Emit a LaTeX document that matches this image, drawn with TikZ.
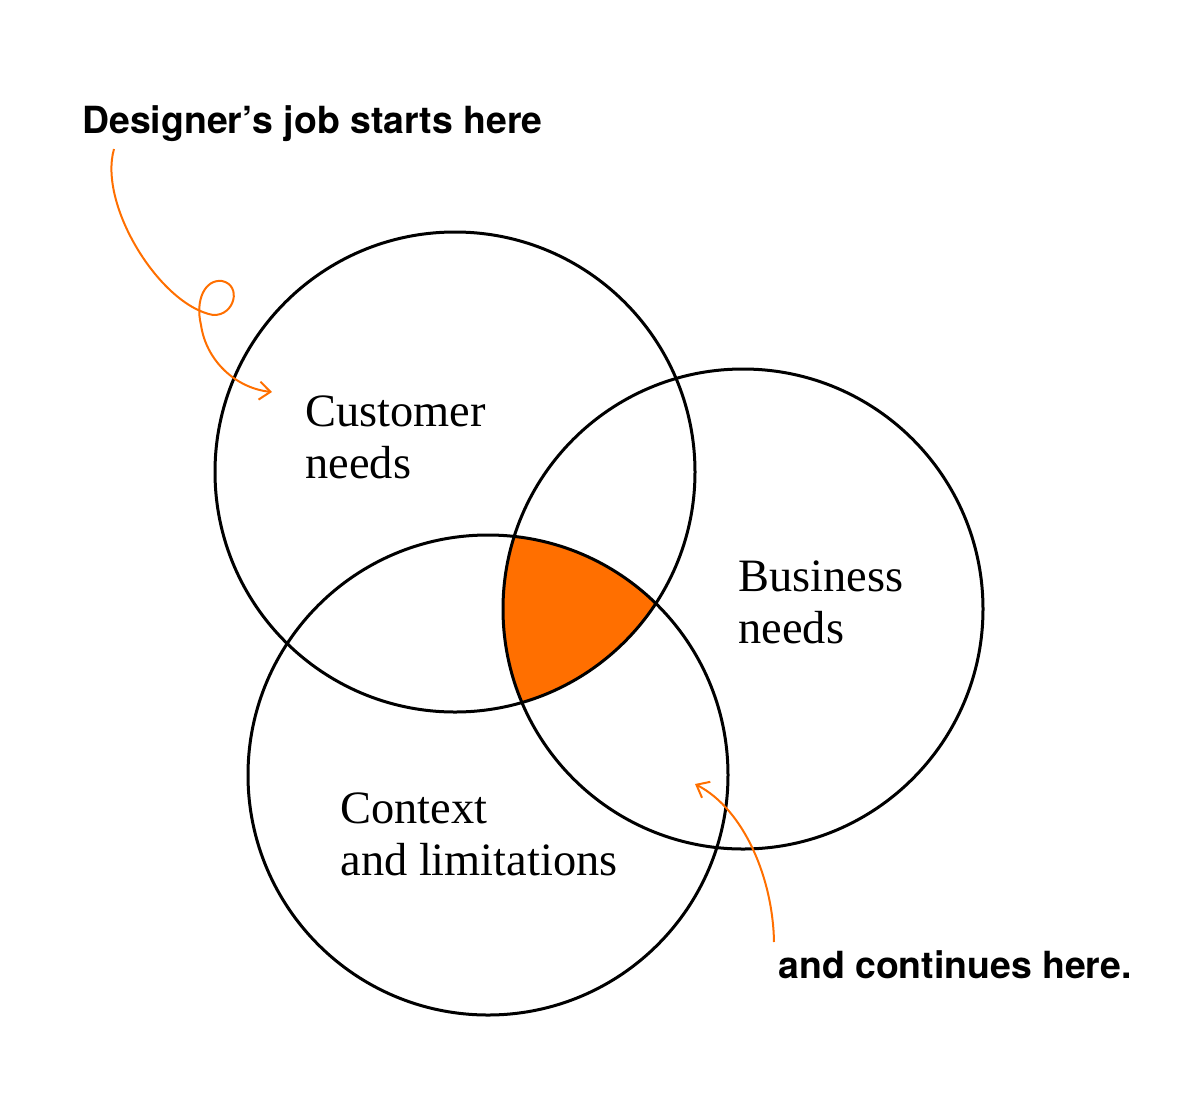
\documentclass[tikz,border=0pt]{standalone}
\usepackage{fontspec}
\setmainfont{Liberation Serif}
\newfontfamily\labelfont{TeX Gyre Heros}
\usetikzlibrary{arrows.meta}
\definecolor{accent}{HTML}{FF6F00}
\tikzset{
  x=0.5pt, y=-0.5pt,
  setcircle/.style={circle, draw=black, line width=1.5pt, minimum size=240pt, inner sep=0pt, outer sep=0pt},
  serif/.style={anchor=base west, inner sep=0pt, align=left, font=\fontsize{23.2}{26}\selectfont},
  callout/.style={anchor=base west, inner sep=0pt, font=\labelfont\bfseries\fontsize{18.7}{22}\selectfont},
  pointer/.style={draw=accent, line width=1pt, -{Straight Barb[length=5.5pt,width=9pt]}}
}
\begin{document}
\begin{tikzpicture}
\useasboundingbox (0,0) rectangle (1200,1104);
\coordinate (cA) at (455,472);
\coordinate (cB) at (743,609);
\coordinate (cC) at (488,775);
\begin{scope}
  \clip (cA) circle (240);
  \clip (cB) circle (240);
  \fill[accent] (cC) circle (240);
\end{scope}
\node[setcircle] (customer) at (cA) {};
\node[setcircle] (business) at (cB) {};
\node[setcircle] (context) at (cC) {};
% base anchor of a multi-line node sits on its last line
\node[serif] (customertext) at (305,478) {Customer\\needs};
\node[serif] (businesstext) at (738,643) {Business\\needs};
\node[serif] (contexttext) at (340,875) {Context\\and limitations};
\node[callout] (start) at (82,133) {Designer’s job starts here};
\node[callout] (cont) at (778,978) {and continues here.};
\coordinate (s1) at (114,149);
\coordinate (e1) at (272,392);
\coordinate (s2) at (774,942);
\coordinate (e2) at (695,784);
\draw[pointer] (s1) .. controls (98,205) and (160,305) .. (213,315)
  .. controls (235,316) and (242,285) .. (222,281)
  .. controls (205,279) and (195,300) .. (201,325)
  .. controls (206,360) and (235,388) .. (e1);
\draw[pointer] (s2) .. controls (773,880) and (745,810) .. (e2);
\end{tikzpicture}
\end{document}
